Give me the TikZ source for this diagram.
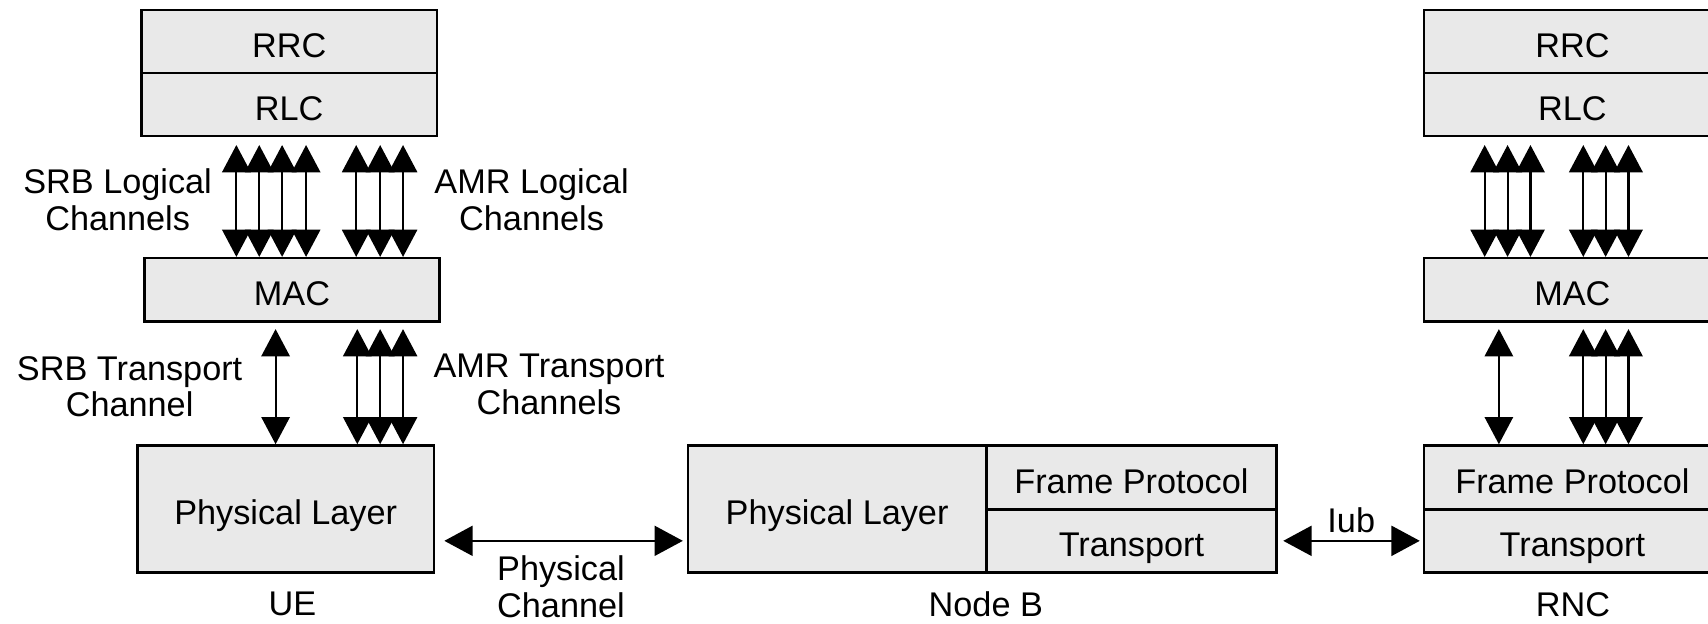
\documentclass[tikz,border=0pt]{standalone}
\usepackage{fontspec}
\setmainfont{Liberation Sans}
\usetikzlibrary{arrows.meta}
\definecolor{boxfill}{RGB}{233,233,233}
\begin{document}
\begin{tikzpicture}[x=0.02cm, y=-0.02cm,
  font=\fontsize{17.9}{19.3}\selectfont,
  layer/.style={draw, line width=1.3pt, fill=boxfill, inner sep=0pt, text height=0.58cm, text depth=0pt},
  lbl/.style={align=center, inner sep=0pt},
  biarrow/.style={line width=1.1pt, {Triangle[width=0.52cm,length=0.5cm]}-{Triangle[width=0.52cm,length=0.5cm]}},
  hbiarrow/.style={line width=1.1pt, {Triangle[width=0.55cm,length=0.52cm]}-{Triangle[width=0.55cm,length=0.52cm]}}]
\useasboundingbox (0,0) rectangle (1568,572);
\clip (0,0) rectangle (1568,572);

% UE stack
\node[layer, minimum width=5.42cm, minimum height=1.16cm] (ueRRC) at (265.5,38) {RRC};
\node[layer, minimum width=5.42cm, minimum height=1.16cm] (ueRLC) at (265.5,96) {RLC};
\node[layer, minimum width=5.42cm, minimum height=1.16cm] (ueMAC) at (268,266) {MAC};
\node[layer, minimum width=5.44cm, minimum height=2.33cm] (uePL) at (262.3,467.2) {Physical Layer};

% Node B
\node[layer, minimum width=5.48cm, minimum height=2.33cm] (nbPL) at (768.5,467.2) {Physical Layer};
\node[layer, minimum width=5.33cm, minimum height=1.17cm] (nbFP) at (1038.7,438.2) {Frame Protocol};
\node[layer, minimum width=5.33cm, minimum height=1.16cm] (nbT) at (1038.7,496.5) {Transport};

% RNC stack
\node[layer, minimum width=5.46cm, minimum height=1.16cm] (rncRRC) at (1443.5,38) {RRC};
\node[layer, minimum width=5.46cm, minimum height=1.16cm] (rncRLC) at (1443.5,96) {RLC};
\node[layer, minimum width=5.46cm, minimum height=1.16cm] (rncMAC) at (1443.5,266) {MAC};
\node[layer, minimum width=5.46cm, minimum height=1.17cm] (rncFP) at (1443.5,438.2) {Frame Protocol};
\node[layer, minimum width=5.46cm, minimum height=1.16cm] (rncT) at (1443.5,496.5) {Transport};

% labels
\node[lbl] (lSRBlog) at (108,183) {SRB Logical\\Channels};
\node[lbl] (lAMRlog) at (488,183) {AMR Logical\\Channels};
\node[lbl] (lSRBtr) at (119,355) {SRB Transport\\Channel};
\node[lbl] (lAMRtr) at (504,353) {AMR Transport\\Channels};
\node[lbl] (lPhy) at (515,539) {Physical\\Channel};
\node[lbl] (lUE) at (268.5,554.3) {UE};
\node[lbl] (lNB) at (905,555) {Node B};
\node[lbl] (lRNC) at (1444,555) {RNC};
\node[lbl] (lIub) at (1240.5,478) {Iub};

% arrow x positions
\coordinate (uS1) at (217,0);
\coordinate (uS2) at (238,0);
\coordinate (uS3) at (259,0);
\coordinate (uS4) at (281,0);
\coordinate (uA1) at (327,0);
\coordinate (uA2) at (349,0);
\coordinate (uA3) at (370,0);
\coordinate (uT) at (253,0);
\coordinate (uTA1) at (328,0);
\coordinate (uTA2) at (349,0);
\coordinate (uTA3) at (370,0);
\coordinate (rS1) at (1363,0);
\coordinate (rS2) at (1384,0);
\coordinate (rS3) at (1405,0);
\coordinate (rA1) at (1453.5,0);
\coordinate (rA2) at (1474,0);
\coordinate (rA3) at (1495,0);
\coordinate (rT) at (1376,0);

\foreach \c in {uS1,uS2,uS3,uS4,uA1,uA2,uA3}
  \draw[biarrow, shorten <=0.14cm] (ueRLC.south -| \c) -- (ueMAC.north -| \c);
\foreach \c in {uT,uTA1,uTA2,uTA3}
  \draw[biarrow, shorten <=0.12cm] (ueMAC.south -| \c) -- (uePL.north -| \c);
\foreach \c in {rS1,rS2,rS3,rA1,rA2,rA3}
  \draw[biarrow, shorten <=0.14cm] (rncRLC.south -| \c) -- (rncMAC.north -| \c);
\foreach \c in {rT,rA1,rA2,rA3}
  \draw[biarrow, shorten <=0.12cm] (rncMAC.south -| \c) -- (rncFP.north -| \c);

\draw[hbiarrow, shorten <=0.17cm, shorten >=0.07cm] (uePL.east |- nbT.center) -- (nbPL.west |- nbT.center);
\draw[hbiarrow, shorten <=0.1cm, shorten >=0.05cm] (nbT.east) -- (rncT.west);
\end{tikzpicture}
\end{document}
